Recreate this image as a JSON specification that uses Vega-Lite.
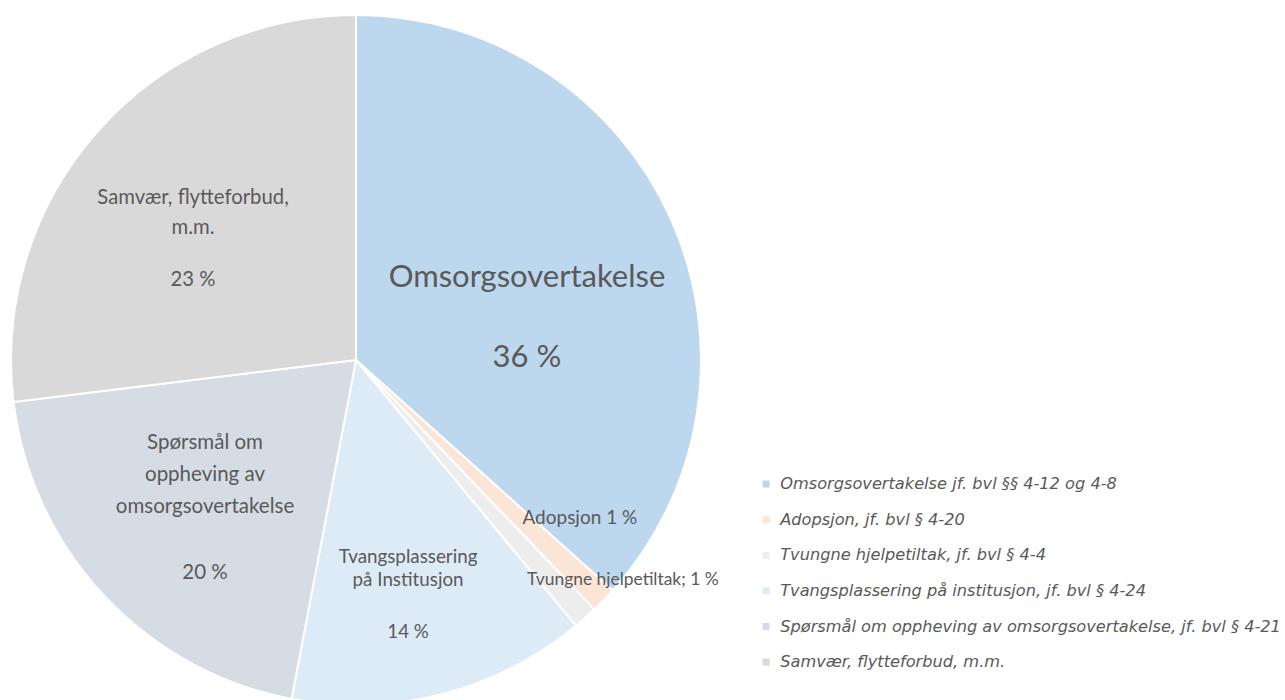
{
  "$schema": "https://vega.github.io/schema/vega-lite/v6.json",
  "width": 712,
  "height": 720,
  "padding": 0,
  "background": "white",
  "config": {"view": {"stroke": null}, "font": "Lato", "text": {"lineBreak": "|", "align": "center", "baseline": "middle", "fill": "#595959", "font": "Lato"}},
  "data": {
    "values": [
      {"idx": 1, "kategori": "Omsorgsovertakelse jf. bvl §§ 4-12 og 4-8", "navn": "Omsorgsovertakelse", "pst": "36 %", "andel": 36.64},
      {"idx": 2, "kategori": "Adopsjon, jf. bvl § 4-20", "navn": "Adopsjon 1 %", "pst": "1 %", "andel": 1.22},
      {"idx": 3, "kategori": "Tvungne hjelpetiltak, jf. bvl § 4-4", "navn": "Tvungne hjelpetiltak; 1 %", "pst": "1 %", "andel": 1.14},
      {"idx": 4, "kategori": "Tvangsplassering på institusjon, jf. bvl § 4-24", "navn": "Tvangsplassering|på Institusjon", "pst": "14 %", "andel": 13.99},
      {"idx": 5, "kategori": "Spørsmål om oppheving av omsorgsovertakelse, jf. bvl § 4-21", "navn": "Spørsmål om|oppheving av|omsorgsovertakelse", "pst": "20 %", "andel": 20.07},
      {"idx": 6, "kategori": "Samvær, flytteforbud, m.m.", "navn": "Samvær, flytteforbud,|m.m.", "pst": "23 %", "andel": 26.94}
    ]
  },
  "encoding": {
    "theta": {"field": "andel", "type": "quantitative", "stack": true},
    "order": {"field": "idx", "type": "quantitative", "sort": "ascending"}
  },
  "layer": [
    {
      "mark": {"type": "arc", "radius": 345, "stroke": "white", "strokeWidth": 2},
      "encoding": {
        "color": {
          "field": "kategori",
          "type": "nominal",
          "sort": null,
          "scale": {
            "domain": [
              "Omsorgsovertakelse jf. bvl §§ 4-12 og 4-8",
              "Adopsjon, jf. bvl § 4-20",
              "Tvungne hjelpetiltak, jf. bvl § 4-4",
              "Tvangsplassering på institusjon, jf. bvl § 4-24",
              "Spørsmål om oppheving av omsorgsovertakelse, jf. bvl § 4-21",
              "Samvær, flytteforbud, m.m."
            ],
            "range": ["#BDD7EE", "#FBE5D6", "#EDEDED", "#DDEBF7", "#D6DCE4", "#D9D9D9"]
          },
          "legend": {
            "title": null,
            "orient": "none",
            "legendX": 758,
            "legendY": 476,
            "symbolType": "square",
            "symbolSize": 49,
            "symbolStrokeWidth": 0,
            "labelFont": "DejaVu Sans",
            "labelFontStyle": "italic",
            "labelFontSize": 16.2,
            "labelColor": "#595959",
            "labelOffset": 6,
            "rowPadding": 18.6,
            "labelLimit": 700
          }
        }
      }
    },
    {
      "mark": {"type": "text", "radius": 189.6, "thetaOffset": -0.027, "fontSize": 31},
      "encoding": {"text": {"condition": {"test": "datum.idx === 1", "field": "navn"}, "value": ""}}
    },
    {
      "mark": {"type": "text", "radius": 171, "thetaOffset": 0.4075, "fontSize": 31},
      "encoding": {"text": {"condition": {"test": "datum.idx === 1", "field": "pst"}, "value": ""}}
    },
    {
      "mark": {"type": "text", "radius": 274, "thetaOffset": -0.155, "fontSize": 19},
      "encoding": {"text": {"condition": {"test": "datum.idx === 2", "field": "navn"}, "value": ""}}
    },
    {
      "mark": {"type": "text", "radius": 346, "thetaOffset": -0.154, "fontSize": 17.4},
      "encoding": {"text": {"condition": {"test": "datum.idx === 3", "field": "navn"}, "value": ""}}
    },
    {
      "mark": {"type": "text", "radius": 203.7, "thetaOffset": -0.0068, "fontSize": 18.8, "lineHeight": 23},
      "encoding": {"text": {"condition": {"test": "datum.idx === 4", "field": "navn"}, "value": ""}}
    },
    {
      "mark": {"type": "text", "radius": 276.9, "thetaOffset": 0.0625, "fontSize": 18.8},
      "encoding": {"text": {"condition": {"test": "datum.idx === 4", "field": "pst"}, "value": ""}}
    },
    {
      "mark": {"type": "text", "radius": 172.3, "thetaOffset": 0.2496, "fontSize": 20.5, "lineHeight": 32},
      "encoding": {"text": {"condition": {"test": "datum.idx === 5", "field": "navn"}, "value": ""}}
    },
    {
      "mark": {"type": "text", "radius": 261.1, "thetaOffset": -0.202, "fontSize": 20.5},
      "encoding": {"text": {"condition": {"test": "datum.idx === 5", "field": "pst"}, "value": ""}}
    },
    {
      "mark": {"type": "text", "radius": 229.8, "thetaOffset": 0.058, "fontSize": 20.3, "lineHeight": 30},
      "encoding": {"text": {"condition": {"test": "datum.idx === 6", "field": "navn"}, "value": ""}}
    },
    {
      "mark": {"type": "text", "radius": 181.6, "thetaOffset": -0.268, "fontSize": 20.3},
      "encoding": {"text": {"condition": {"test": "datum.idx === 6", "field": "pst"}, "value": ""}}
    }
  ]
}
